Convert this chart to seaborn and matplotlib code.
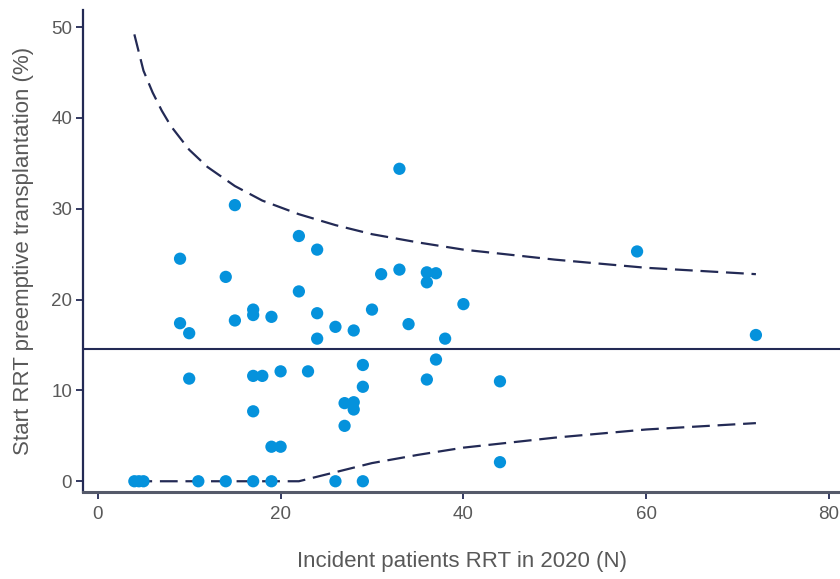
import seaborn as sns
import numpy as np
import matplotlib.pyplot as plt
import pandas as pd

# incident patients (N) and % preemptive transplantation per centre
n_patients = [4, 4.5, 5, 11, 14, 17, 19, 26, 29, 44,
              10, 17, 18, 20, 23, 17, 19, 20, 29, 29,
              27, 28, 28, 27, 37, 36, 44, 38, 24,
              15, 9, 14, 22, 24, 22, 9, 10, 15, 17, 17, 19, 24,
              26, 33, 31, 33, 36, 37, 36, 40, 30, 28, 34, 59, 72]
pct_preempt = [0, 0, 0, 0, 0, 0, 0, 0, 0, 2.1,
               11.3, 11.6, 11.6, 12.1, 12.1, 7.7, 3.8, 3.8, 12.8, 10.4,
               8.6, 8.7, 7.9, 6.1, 13.4, 11.2, 11.0, 15.7, 15.7,
               30.4, 24.5, 22.5, 27.0, 25.5, 20.9, 17.4, 16.3, 17.7, 18.9, 18.3, 18.1, 18.5,
               17.0, 34.4, 22.8, 23.3, 23.0, 22.9, 21.9, 19.5, 18.9, 16.6, 17.3, 25.3, 16.1]

mean_pct = 14.6

# control limits
limit_n = [4, 5, 6, 7, 8, 10, 12, 15, 18, 22, 26, 30, 35, 40, 50, 60, 72]
upper_pct = [49.2, 45.2, 42.8, 40.8, 39.1, 36.5, 34.6, 32.5, 30.9, 29.4,
             28.2, 27.2, 26.3, 25.5, 24.4, 23.5, 22.8]
lower_pct = [0, 0, 0, 0, 0, 0, 0, 0, 0, 0,
             1.0, 2.0, 2.9, 3.7, 4.8, 5.7, 6.4]

df = pd.DataFrame({'n': n_patients, 'pct': pct_preempt})
lim = pd.DataFrame({'n': limit_n, 'upper': upper_pct, 'lower': lower_pct})

sns.set_style('white')
plt.rcParams['font.family'] = ['Liberation Sans', 'DejaVu Sans']

navy = '#232a55'
grey_txt = '#595959'
fig = plt.figure(figsize=(8.4, 5.79), dpi=100)
ax = fig.add_axes([0.099, 0.150, 0.901, 0.833])

ax.axhline(mean_pct, color=navy, lw=1.5, zorder=1)
sns.lineplot(x='n', y='upper', data=lim, color=navy, lw=1.6, ax=ax, zorder=2)
ax.lines[-1].set_dashes([8, 3.5])
sns.lineplot(x='n', y='lower', data=lim, color=navy, lw=1.6, ax=ax, zorder=2)
ax.lines[-1].set_dashes([8, 3.5])
sns.scatterplot(x='n', y='pct', data=df, color='#0592dc', s=78,
                edgecolor='none', ax=ax, zorder=3)

ax.set_xlim(-1.6, 81.2)
ax.set_ylim(-1.2, 51.9)
ax.set_xticks([0, 20, 40, 60, 80])
ax.set_yticks([0, 10, 20, 30, 40, 50])
ax.tick_params(axis='both', direction='out', length=5, width=1.3, color=navy,
               labelcolor=grey_txt, labelsize=13.5, left=True, bottom=True, pad=3)
ax.tick_params(axis='x', pad=5)
ax.set_xlabel('Incident patients RRT in 2020 (N)', fontsize=16, color=grey_txt, labelpad=20)
ax.set_ylabel('Start RRT preemptive transplantation (%)', fontsize=16, color=grey_txt, labelpad=12)

sns.despine(ax=ax, top=True, right=True)
ax.spines['left'].set_color(navy)
ax.spines['left'].set_linewidth(1.6)
ax.spines['bottom'].set_color('#555a6a')
ax.spines['bottom'].set_linewidth(2.2)

fig.savefig('out.png', dpi=100)
